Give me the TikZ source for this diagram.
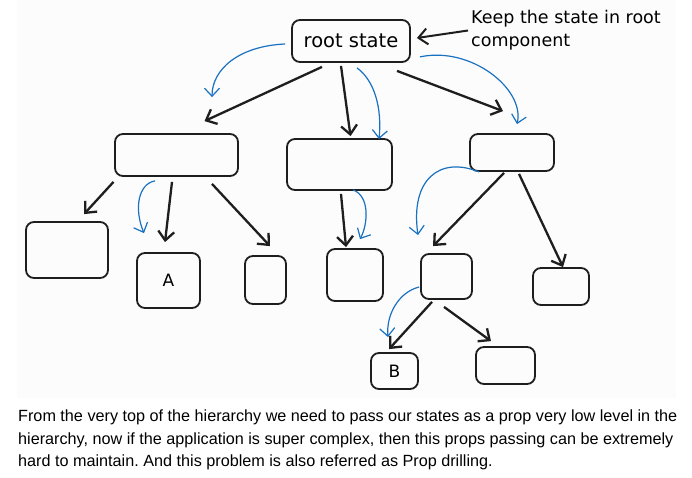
\documentclass[tikz,border=0pt]{standalone}
\usepackage{fontspec}
\setmainfont{Liberation Sans}
\newfontfamily\sketchfont{DejaVu Sans}
\usetikzlibrary{calc, arrows.meta}
\definecolor{ink}{HTML}{1E1E1E}
\definecolor{propblue}{HTML}{1971C2}
\definecolor{canvas}{HTML}{FCFCFC}
\frenchspacing

\begin{document}
\begin{tikzpicture}[x=1pt, y=-1pt]
 \tikzstyle{box} = [draw=ink, line width=1.8pt, rounded corners=8pt, rectangle, inner sep=0pt, font=\sketchfont\fontsize{17}{20}\selectfont]
 \tikzstyle{push} = [draw=ink, line width=2.3pt, -{Straight Barb[length=9pt,width=16pt]}]
 \tikzstyle{prop} = [draw=propblue, line width=1.2pt, -{Straight Barb[length=8pt,width=15pt]}]

 \useasboundingbox (0,0) rectangle (692,477);
 \fill [canvas] (17,0) rectangle (676,398);

 % component tree
 \node [box, minimum width=118pt, minimum height=42pt, font=\sketchfont\fontsize{19.5}{22}\selectfont] (root) at (351,41) {root state};
 \node [box, minimum width=123pt, minimum height=42pt] (M1) at (176.5,155) {};
 \node [box, minimum width=105pt, minimum height=51pt] (M2) at (339.5,164.5) {};
 \node [box, minimum width=84pt,  minimum height=37pt] (M3) at (512,152.5) {};
 \node [box, minimum width=82pt,  minimum height=56pt] (L1) at (67,250) {};
 \node [box, minimum width=63pt,  minimum height=55pt] (L2) at (168.5,280.5) {A};
 \node [box, minimum width=41pt,  minimum height=48pt] (L3) at (265.5,280) {};
 \node [box, minimum width=56pt,  minimum height=52pt] (L4) at (355,275) {};
 \node [box, minimum width=51pt,  minimum height=45pt] (L5) at (446.5,276.5) {};
 \node [box, minimum width=56pt,  minimum height=37pt] (L6) at (561,286.5) {};
 \node [box, minimum width=47pt,  minimum height=36pt] (K1) at (394.5,371) {B};
 \node [box, minimum width=59pt,  minimum height=37pt] (K2) at (505.5,365.5) {};

 \node [anchor=west, align=left, inner sep=0pt, font=\sketchfont\fontsize{17.5}{23}\selectfont] (note) at (471,30.5) {Keep the state in root\\component};

 % children
 \draw [push] ($(root.south)+(-29,4)$) -- ($(M1.north)+(28,-12)$);
 \draw [push] ($(root.south)+(-10,3)$) -- ($(M2.north)+(11,-2)$);
 \draw [push] ($(root.south)+(46,8)$) -- ($(M3.north)+(-9,-22)$);
 \draw [push] ($(M1.south)+(-63,5)$) -- ($(L1.north)+(17,-7)$);
 \draw [push] ($(M1.south)+(-4.5,5)$) -- ($(L2.north)+(-3.5,-10)$);
 \draw [push] ($(M1.south)+(35.5,7)$) -- ($(L3.north)+(4.5,-9)$);
 \draw [push] ($(M2.south)+(1.5,3)$) -- ($(L4.north)+(-9,-1)$);
 \draw [push] ($(M3.south)+(-8,1)$) -- ($(L5.north)+(-13.5,-7)$);
 \draw [push] ($(M3.south)+(7,2)$) -- ($(L6.north)+(2,0)$);
 \draw [push] ($(L5.south)+(-14.5,2)$) -- ($(K1.north)+(-5.5,-3)$);
 \draw [push] ($(L5.south)+(-2.5,7)$) -- ($(K2.north)+(-14.5,-5)$);
 \draw [push, line width=2pt] ($(note.west)+(-3,0)$) -- ($(root.east)+(6,-3)$);

 % props
 \draw [prop] ($(root.west)+(-6,3)$) .. controls +(-46,2) and +(0,-28) .. ($(M1.north)+(35.5,-36)$);
 \draw [prop] ($(root.south)+(6,5)$) .. controls +(18,13) and +(3,-30) .. ($(M2.north)+(39.5,1)$);
 \draw [prop] ($(root.south east)+(9,-6)$) .. controls +(51,-11) and +(8,-35) .. ($(M3.north)+(5,-9)$);
 \draw [prop] ($(M1.south)+(-21.5,4)$) .. controls +(-17,3) and +(-10,-24) .. ($(L2.north)+(-24.5,-19)$);
 \draw [prop] ($(M2.south)+(13.5,-1)$) .. controls +(17,6) and +(8,-15) .. ($(L4.north)+(5,-9)$);
 \draw [prop] ($(M3.south)+(-33,0)$) .. controls +(-39,-16) and +(-8,-56) .. ($(L5.north)+(-28.5,-18)$);
 \draw [prop] ($(L5.west)+(-1,10.5)$) .. controls +(-20,5) and +(-2,-23) .. ($(K1.north)+(-6.5,-15)$);

 \node [anchor=north west, align=left, inner sep=0pt, font=\fontsize{16.2}{22.5}\selectfont] (caption) at (18,410) {From the very top of the hierarchy we need to pass our states as a prop very low level in the\\hierarchy, now if the application is super complex, then this props passing can be extremely\\hard to maintain. And this problem is also referred as Prop drilling.};
\end{tikzpicture}
\end{document}
